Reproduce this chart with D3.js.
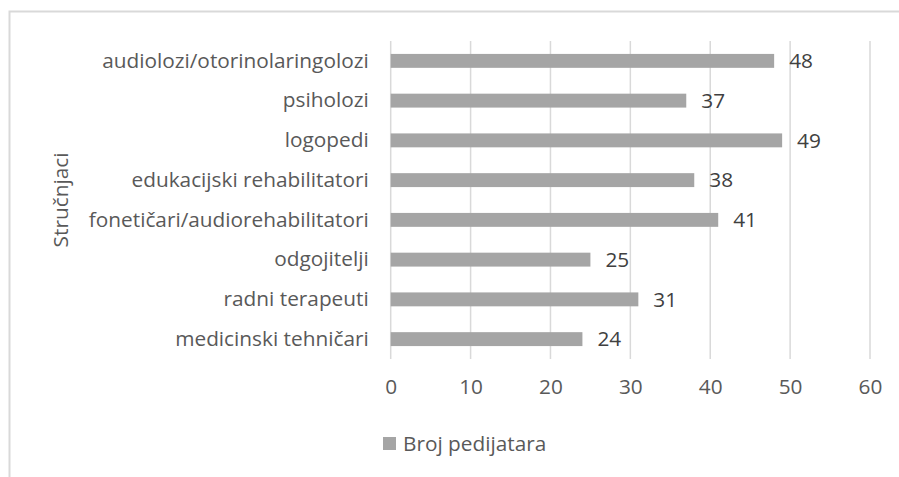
<!DOCTYPE html>
<html>
<head>
<meta charset="utf-8">
<script src="https://cdn.jsdelivr.net/npm/d3@7"></script>
<style>
  body { margin: 0; background: #fff; }
  text { font-family: "Open Sans", Lato, sans-serif; fill: #595959; }
</style>
</head>
<body>
<div class="canvas"></div>
<script>
const categories = [
    "audiolozi/otorinolaringolozi",
    "psiholozi",
    "logopedi",
    "edukacijski rehabilitatori",
    "fonetičari/audiorehabilitatori",
    "odgojitelji",
    "radni terapeuti",
    "medicinski tehničari"
]
const values = [48, 37, 49, 38, 41, 25, 31, 24]
const xTicks = [0, 10, 20, 30, 40, 50, 60]
const seriesName = "Broj pedijatara"
const axisTitle = "Stručnjaci"

const width = 899
const height = 477
const fontSize = "20.8px"

const svg = d3.select(".canvas")
    .append("svg")
    .attr("width", width)
    .attr("height", height)

// chart frame (bottom and right run off the picture)
svg.append("path")
    .attr("d", `M9.5,${height + 2} V11.5 H${width + 2}`)
    .attr("fill", "none")
    .attr("stroke", "#d9d9d9")
    .attr("stroke-width", 2)

const margin = { top: 41, left: 390.7, right: 29, bottom: 118 }
const graphWidth = width - margin.left - margin.right
const graphHeight = height - margin.top - margin.bottom

const graph = svg.append("g")
    .attr("transform", `translate(${margin.left}, ${margin.top})`)

const scaleX = d3.scaleLinear()
    .domain([0, 60])
    .range([0, graphWidth])

const scaleY = d3.scaleBand()
    .domain(categories)
    .range([0, graphHeight])
    .paddingInner(0.65)
    .paddingOuter(0.325)

// vertical gridlines
graph.selectAll("line.grid")
    .data(xTicks)
    .enter()
    .append("line")
    .attr("class", "grid")
    .attr("x1", d => scaleX(d))
    .attr("x2", d => scaleX(d))
    .attr("y1", 0)
    .attr("y2", graphHeight)
    .attr("stroke", "#d9d9d9")
    .attr("stroke-width", 1.5)

graph.selectAll("rect")
    .data(values)
    .enter()
    .append("rect")
    .attr("x", 0)
    .attr("y", (d, i) => scaleY(categories[i]))
    .attr("width", d => scaleX(d))
    .attr("height", scaleY.bandwidth())
    .attr("fill", "#a5a5a5")

// data labels
graph.selectAll("text.lbl")
    .data(values)
    .enter()
    .append("text")
    .attr("class", "lbl")
    .attr("x", d => scaleX(d) + 15)
    .attr("y", (d, i) => scaleY(categories[i]) + scaleY.bandwidth() / 2)
    .attr("dy", "0.35em")
    .style("font-size", fontSize)
    .style("fill", "#404040")
    .text(d => d)

// category labels
const yAxis = d3.axisLeft(scaleY).tickSize(0).tickPadding(22)
const yAxisGroup = graph.append("g").call(yAxis)
yAxisGroup.select(".domain").remove()
yAxisGroup.selectAll("text")
    .style("font-size", fontSize)
    .attr("fill", null)
    .attr("font-family", null)

// value axis
const xAxis = d3.axisBottom(scaleX).tickValues(xTicks).tickSize(0).tickPadding(20)
const xAxisGroup = graph.append("g")
    .attr("transform", `translate(0, ${graphHeight})`)
    .call(xAxis)
xAxisGroup.select(".domain").remove()
xAxisGroup.selectAll("text")
    .style("font-size", fontSize)
    .attr("fill", null)
    .attr("font-family", null)

// axis title
svg.append("text")
    .attr("transform", "translate(68, 200) rotate(-90)")
    .attr("text-anchor", "middle")
    .style("font-size", fontSize)
    .text(axisTitle)

// legend
const legend = svg.append("g").attr("transform", "translate(383, 437)")
legend.append("rect")
    .attr("width", 13)
    .attr("height", 13)
    .attr("fill", "#a5a5a5")
legend.append("text")
    .attr("x", 20)
    .attr("y", 7)
    .attr("dy", "0.35em")
    .style("font-size", fontSize)
    .text(seriesName)
</script>
</body>
</html>
